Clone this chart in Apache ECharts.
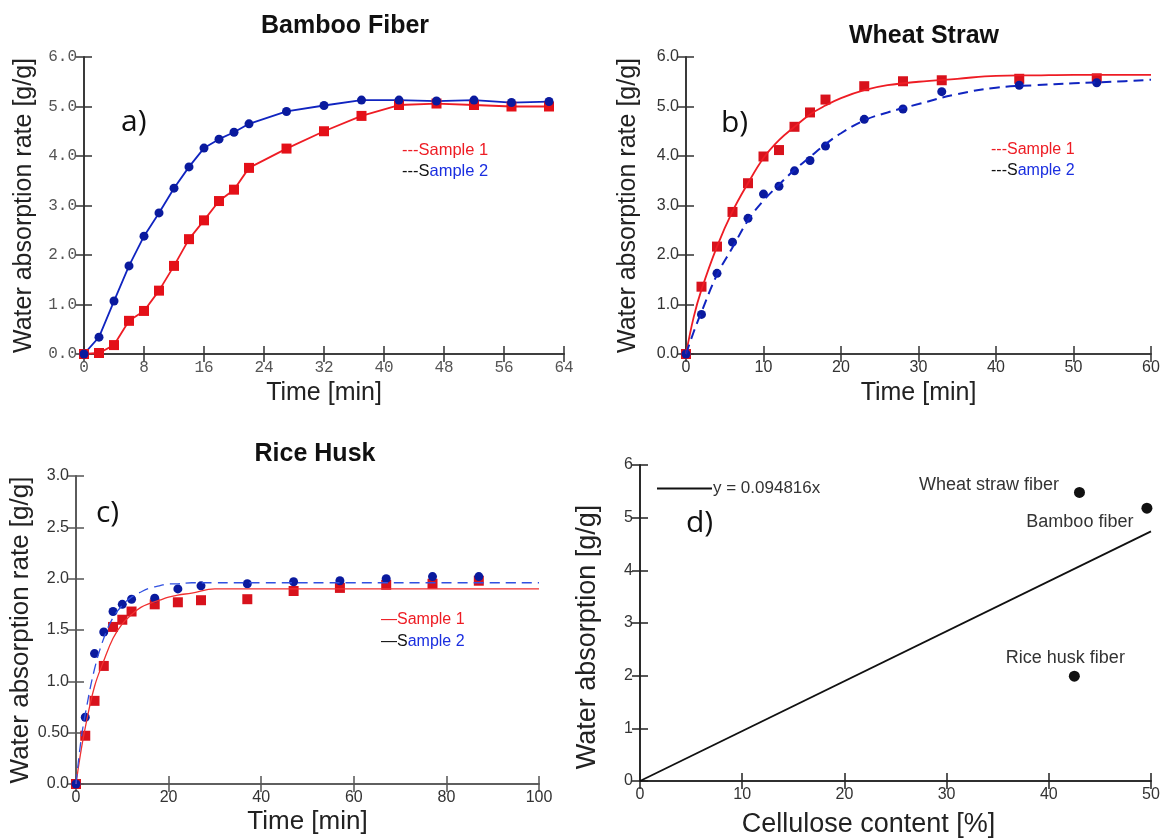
<!DOCTYPE html>
<html><head><meta charset="utf-8">
<script src="https://cdn.jsdelivr.net/npm/echarts@6/dist/echarts.min.js"></script>
<style>html,body{margin:0;padding:0;background:#fff}#c{width:1170px;height:839px}</style>
</head><body><div id="c"></div>
<script>
// ---- a) Bamboo Fiber ----
const bambooTime = [0,2,4,6,8,10,12,14,16,18,20,22,27,32,37,42,47,52,57,62];
const bambooS1 = [0,0.02,0.18,0.67,0.87,1.28,1.78,2.32,2.70,3.09,3.32,3.76,4.15,4.50,4.81,5.03,5.06,5.03,5.00,5.00];
const bambooS2 = [0,0.34,1.07,1.78,2.38,2.85,3.35,3.78,4.16,4.34,4.48,4.65,4.90,5.02,5.13,5.13,5.11,5.13,5.08,5.10];
const bambooYTicks = ['0.0','1.0','2.0','3.0','4.0','5.0','6.0'];
// ---- b) Wheat Straw ----
const wheatTime = [0,2,4,6,8,10,12,14,16,18,23,28,33,43,53];
const wheatS1 = [0,1.36,2.17,2.87,3.45,3.99,4.12,4.59,4.88,5.14,5.41,5.51,5.53,5.56,5.57];
const wheatS2 = [0,0.80,1.63,2.26,2.74,3.23,3.39,3.70,3.91,4.20,4.74,4.95,5.30,5.43,5.48];
const wheatFitTime = [0,1,2,4,6,8,10,12,14,16,18,20,23,26,30,35,40,45,50,55,60];
const wheatFit1 = [0,0.75,1.30,2.17,2.88,3.45,3.96,4.32,4.59,4.84,5.02,5.17,5.33,5.43,5.50,5.56,5.62,5.63,5.64,5.64,5.64];
const wheatFit2 = [0,0.45,0.85,1.60,2.15,2.70,3.10,3.42,3.72,3.98,4.24,4.46,4.72,4.88,5.05,5.25,5.38,5.43,5.47,5.50,5.54];
const wheatYTicks = ['0.0','1.0','2.0','3.0','4.0','5.0','6.0'];
// ---- c) Rice Husk ----
const riceTime = [0,2,4,6,8,10,12,17,22,27,37,47,57,67,77,87];
const riceS1 = [0,0.47,0.81,1.15,1.53,1.60,1.68,1.75,1.77,1.79,1.80,1.88,1.91,1.94,1.95,1.98];
const riceS2 = [0,0.65,1.27,1.48,1.68,1.75,1.80,1.81,1.90,1.93,1.95,1.97,1.98,2.00,2.02,2.02];
const riceFitTime = [0,1,2,4,6,8,10,12,14,16,18,20,22,25,30,40,60,80,100];
const riceFit1 = [0,0.30,0.55,0.95,1.20,1.42,1.56,1.65,1.72,1.76,1.79,1.82,1.84,1.86,1.90,1.90,1.90,1.90,1.90];
const riceFit2 = [0,0.40,0.68,1.12,1.42,1.62,1.74,1.82,1.87,1.91,1.93,1.95,1.95,1.96,1.96,1.96,1.96,1.96,1.96];
const riceYTicks = ['0.0','0.50','1.0','1.5','2.0','2.5','3.0'];
// ---- d) Cellulose vs absorption ----
const fiberNames = ['Wheat straw fiber','Bamboo fiber','Rice husk fiber'];
const celluloseContent = [43.0, 49.6, 42.5];
const waterAbsorption = [5.48, 5.18, 1.99];
const fitX = [0, 50];
const fitY = [0, 4.74];

const pairs = (xs, ys) => xs.map((x, i) => [x, ys[i]]);
const RED = '#ee1c24', BLUE = '#1024c0', BLUEDOT = '#0a1a9e';
const ARIAL = "'Liberation Sans', Arial, sans-serif";

const grids = [
  {left: 84, top: 57, width: 480, height: 297},
  {left: 686, top: 57, width: 465, height: 297},
  {left: 76, top: 476, width: 463, height: 308},
  {left: 640, top: 465, width: 511, height: 317}
];
const axisCol = ['#333','#333','#555','#222'];

function xPair(g, min, max, interval, name, gap, nameSize, labelFont, labelColor, namePad) {
  const line = {lineStyle: {color: axisCol[g], width: 1.6}};
  return [
    {gridIndex: g, type: 'value', min, max, interval, position: 'bottom',
     axisLine: Object.assign({onZero: false}, line),
     axisTick: {inside: true, length: 8, lineStyle: {color: axisCol[g], width: 1.5}},
     splitLine: {show: false},
     axisLabel: {fontFamily: labelFont, fontSize: 16, color: labelColor, margin: 6},
     name, nameLocation: 'middle', nameGap: gap,
     nameTextStyle: {fontFamily: ARIAL, fontSize: nameSize, color: '#222', padding: namePad || 0}},
    {gridIndex: g, type: 'value', min, max, interval, position: 'top',
     axisLine: line, axisLabel: {show: false}, splitLine: {show: false},
     axisTick: {inside: true, length: 8, lineStyle: {color: axisCol[g], width: 1.5}}}
  ];
}
function yPair(g, min, max, interval, ticks, name, gap, nameSize, labelFont, labelColor, namePad) {
  const line = {lineStyle: {color: axisCol[g], width: 1.6}};
  return [
    {gridIndex: g, type: 'value', min, max, interval, position: 'left',
     axisLine: Object.assign({onZero: false}, line),
     axisTick: {inside: true, length: 8, lineStyle: {color: axisCol[g], width: 1.5}},
     splitLine: {show: false},
     axisLabel: {fontFamily: labelFont, fontSize: 16, color: labelColor, margin: 7,
       formatter: v => ticks ? ticks[Math.round((v - min) / interval)] : String(v)},
     name, nameLocation: 'middle', nameGap: gap,
     nameTextStyle: {fontFamily: ARIAL, fontSize: nameSize, color: '#222', padding: namePad || 0}},
    {gridIndex: g, type: 'value', min, max, interval, position: 'right',
     axisLine: line, axisLabel: {show: false}, splitLine: {show: false},
     axisTick: {inside: true, length: 8, lineStyle: {color: axisCol[g], width: 1.5}}}
  ];
}

const MONO = "'Liberation Mono', 'DejaVu Sans Mono', monospace";
const xAxes = [].concat(
  xPair(0, 0, 64, 8, 'Time [min]', 27, 25, MONO, '#555'),
  xPair(1, 0, 60, 10, 'Time [min]', 27, 25, ARIAL, '#333'),
  xPair(2, 0, 100, 20, 'Time [min]', 25, 26, ARIAL, '#333'),
  xPair(3, 0, 50, 10, 'Cellulose content [%]', 30, 27, ARIAL, '#333', [0, 54, 0, 0])
);
const yAxes = [].concat(
  yPair(0, 0, 6, 1, bambooYTicks, 'Water absorption rate [g/g]', 47, 25, MONO, '#555'),
  yPair(1, 0, 6, 1, wheatYTicks, 'Water absorption rate [g/g]', 45, 25, ARIAL, '#333'),
  yPair(2, 0, 3, 0.5, riceYTicks, 'Water absorption rate [g/g]', 41, 26, ARIAL, '#333'),
  yPair(3, 0, 6, 1, null, 'Water absorption [g/g]', 39, 27, ARIAL, '#333', [0, 28, 0, 0])
);

const series = [
  // a
  {name: 'Sample 1', type: 'line', xAxisIndex: 0, yAxisIndex: 0, data: pairs(bambooTime, bambooS1),
   symbol: 'rect', symbolSize: 10, itemStyle: {color: '#e41018', opacity: 1}, lineStyle: {color: RED, width: 1.8}},
  {name: 'Sample 2', type: 'line', xAxisIndex: 0, yAxisIndex: 0, data: pairs(bambooTime, bambooS2),
   symbol: 'circle', symbolSize: 9, itemStyle: {color: BLUEDOT, opacity: 1}, lineStyle: {color: BLUE, width: 1.8}},
  // b
  {type: 'line', xAxisIndex: 2, yAxisIndex: 2, data: pairs(wheatFitTime, wheatFit1), smooth: 0.4,
   showSymbol: false, symbol: 'none', lineStyle: {color: RED, width: 1.8}},
  {type: 'line', xAxisIndex: 2, yAxisIndex: 2, data: pairs(wheatFitTime, wheatFit2), smooth: 0.4,
   showSymbol: false, symbol: 'none', lineStyle: {color: BLUE, width: 2, type: [10, 6]}},
  {type: 'scatter', xAxisIndex: 2, yAxisIndex: 2, data: pairs(wheatTime, wheatS1),
   symbol: 'rect', symbolSize: 10, itemStyle: {color: '#d8121c', opacity: 1}},
  {type: 'scatter', xAxisIndex: 2, yAxisIndex: 2, data: pairs(wheatTime, wheatS2),
   symbol: 'circle', symbolSize: 9, itemStyle: {color: BLUEDOT, opacity: 1}},
  // c
  {type: 'line', xAxisIndex: 4, yAxisIndex: 4, data: pairs(riceFitTime, riceFit1), smooth: 0.4,
   showSymbol: false, symbol: 'none', lineStyle: {color: '#f03030', width: 1.3}},
  {type: 'line', xAxisIndex: 4, yAxisIndex: 4, data: pairs(riceFitTime, riceFit2), smooth: 0.4,
   showSymbol: false, symbol: 'none', lineStyle: {color: '#3050e0', width: 1.3, type: [10, 6]}},
  {type: 'scatter', xAxisIndex: 4, yAxisIndex: 4, data: pairs(riceTime, riceS1),
   symbol: 'rect', symbolSize: 10, itemStyle: {color: '#d8121c', opacity: 1}},
  {type: 'scatter', xAxisIndex: 4, yAxisIndex: 4, data: pairs(riceTime, riceS2),
   symbol: 'circle', symbolSize: 9, itemStyle: {color: BLUEDOT, opacity: 1}},
  // d
  {name: 'y = 0.094816x', type: 'line', xAxisIndex: 6, yAxisIndex: 6, data: pairs(fitX, fitY),
   symbol: 'none', itemStyle: {color: '#111'}, lineStyle: {color: '#111', width: 1.8}},
  {type: 'scatter', xAxisIndex: 6, yAxisIndex: 6,
   data: celluloseContent.map((x, i) => ({name: fiberNames[i], value: [x, waterAbsorption[i]],
     label: [{position: 'left', distance: 15, offset: [0, -7]},
             {position: 'left', distance: 8, offset: [0, 14]},
             {position: 'top', distance: 4, offset: [-9, 0]}][i]})),
   symbol: 'circle', symbolSize: 11, itemStyle: {color: '#111', opacity: 1},
   label: {show: true, formatter: p => p.name, fontFamily: ARIAL, fontSize: 18, color: '#333'}}
];

const legendText = (left, top, kind, base, size) => ({
  type: 'text', left, top,
  style: {text: kind === 1 ? '{r|' + base + 'Sample 1}' : '{k|' + base + 'S}{b|ample 2}',
    rich: {r: {fill: RED, fontSize: size, fontFamily: ARIAL},
           k: {fill: '#111', fontSize: size, fontFamily: ARIAL},
           b: {fill: '#1a2ee0', fontSize: size, fontFamily: ARIAL}}}
});
const tag = (left, top, t) => ({type: 'text', left, top,
  style: {text: t, fontSize: 30, fontFamily: "'Open Sans', 'Liberation Sans', sans-serif", fill: '#111'}});

const titleStyle = {fontFamily: ARIAL, fontWeight: 'bold', fontSize: 25, color: '#111'};
const option = {
  animation: false,
  backgroundColor: '#fff',
  title: [
    {text: 'Bamboo Fiber', left: 340, top: 9, textAlign: 'center', textStyle: titleStyle},
    {text: 'Wheat Straw', left: 919, top: 19, textAlign: 'center', textStyle: titleStyle},
    {text: 'Rice Husk', left: 310, top: 437, textAlign: 'center', textStyle: titleStyle}
  ],
  legend: {data: ['y = 0.094816x'], left: 657, top: 480, padding: 0, itemWidth: 55, itemHeight: 2, itemGap: 0,
    icon: 'rect', itemStyle: {color: '#111'},
    textStyle: {fontFamily: ARIAL, fontSize: 17, color: '#333', padding: [0, 0, 0, -4]}},
  grid: grids,
  xAxis: xAxes,
  yAxis: yAxes,
  series,
  graphic: [
    tag(121, 107, 'a)'), tag(721, 108, 'b)'), tag(96, 498, 'c)'), tag(686, 508, 'd)'),
    legendText(402, 142, 1, '---', 16.5), legendText(402, 163, 2, '---', 16.5),
    legendText(991, 142, 1, '---', 16), legendText(991, 163, 2, '---', 16),
    legendText(381, 612, 1, '\u2014', 16), legendText(381, 634, 2, '\u2014', 16)
  ]
};
const chart = echarts.init(document.getElementById('c'), null, {renderer: 'canvas'});
chart.setOption(option);
</script></body></html>
